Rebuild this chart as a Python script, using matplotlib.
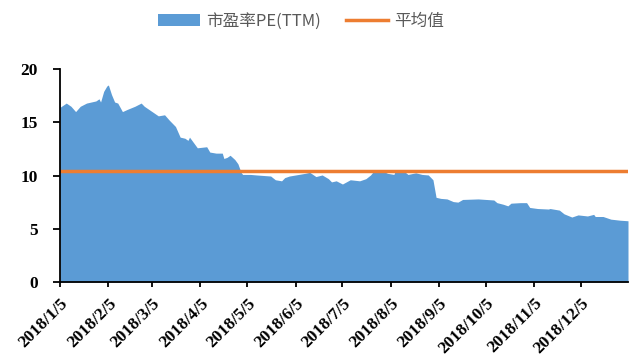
import matplotlib
matplotlib.use("Agg")
import matplotlib.pyplot as plt
from matplotlib.patches import Patch
from matplotlib.lines import Line2D
import pandas as pd

dates = ["2018-01-05", "2018-01-09", "2018-01-12", "2018-01-15", "2018-01-18", "2018-01-22",
         "2018-01-28", "2018-01-30", "2018-01-31", "2018-02-02", "2018-02-04", "2018-02-05",
         "2018-02-07", "2018-02-09", "2018-02-11", "2018-02-14", "2018-02-17", "2018-02-22",
         "2018-02-26", "2018-02-28", "2018-03-03", "2018-03-06", "2018-03-09", "2018-03-13",
         "2018-03-16", "2018-03-20", "2018-03-23", "2018-03-26", "2018-03-28", "2018-03-29",
         "2018-03-31", "2018-04-03", "2018-04-09", "2018-04-11", "2018-04-15", "2018-04-19",
         "2018-04-20", "2018-04-22", "2018-04-24", "2018-04-27", "2018-04-29", "2018-05-01",
         "2018-05-02", "2018-05-07", "2018-05-11", "2018-05-20", "2018-05-23", "2018-05-27",
         "2018-05-29", "2018-06-01", "2018-06-05", "2018-06-11", "2018-06-14", "2018-06-18",
         "2018-06-22", "2018-06-26", "2018-06-28", "2018-07-01", "2018-07-05", "2018-07-10",
         "2018-07-16", "2018-07-20", "2018-07-23", "2018-07-25", "2018-07-31", "2018-08-03",
         "2018-08-07", "2018-08-08", "2018-08-13", "2018-08-16", "2018-08-21", "2018-08-25",
         "2018-08-29", "2018-09-01", "2018-09-03", "2018-09-06", "2018-09-10", "2018-09-14",
         "2018-09-17", "2018-09-20", "2018-09-30", "2018-10-10", "2018-10-12", "2018-10-16",
         "2018-10-19", "2018-10-21", "2018-10-27", "2018-10-31", "2018-11-02", "2018-11-07",
         "2018-11-14", "2018-11-15", "2018-11-21", "2018-11-24", "2018-11-29", "2018-12-03",
         "2018-12-09", "2018-12-13", "2018-12-14", "2018-12-19", "2018-12-24", "2018-12-30",
         "2019-01-04"]
pe_ttm = [16.4, 16.8, 16.5, 16.0, 16.5, 16.8,
          17.0, 17.2, 16.9, 17.9, 18.4, 18.5,
          17.6, 16.9, 16.8, 16.0, 16.2, 16.5,
          16.8, 16.5, 16.2, 15.9, 15.6, 15.7,
          15.2, 14.6, 13.6, 13.5, 13.3, 13.6,
          13.2, 12.6, 12.7, 12.2, 12.1, 12.1,
          11.6, 11.7, 11.9, 11.5, 11.1, 10.3,
          10.1, 10.1, 10.05, 9.95, 9.6, 9.5,
          9.8, 9.95, 10.05, 10.2, 10.3, 9.9,
          10.05, 9.7, 9.4, 9.5, 9.2, 9.6,
          9.5, 9.7, 10.05, 10.4, 10.4, 10.2,
          10.1, 10.5, 10.45, 10.1, 10.25, 10.1,
          10.05, 9.6, 7.95, 7.85, 7.8, 7.55,
          7.5, 7.75, 7.8, 7.7, 7.45, 7.3,
          7.15, 7.4, 7.45, 7.45, 7.0, 6.9,
          6.85, 6.9, 6.75, 6.4, 6.1, 6.3,
          6.2, 6.35, 6.15, 6.15, 5.9, 5.8,
          5.75]
average_pe = 10.4

tick_dates = ["2018-01-05", "2018-02-05", "2018-03-05", "2018-04-05", "2018-05-05", "2018-06-05",
              "2018-07-05", "2018-08-05", "2018-09-05", "2018-10-05", "2018-11-05", "2018-12-05"]
tick_labels = ["2018/1/5", "2018/2/5", "2018/3/5", "2018/4/5", "2018/5/5", "2018/6/5",
               "2018/7/5", "2018/8/5", "2018/9/5", "2018/10/5", "2018/11/5", "2018/12/5"]
y_ticks = [0, 5, 10, 15, 20]

x = pd.to_datetime(dates)
xt = pd.to_datetime(tick_dates)

fig = plt.figure(figsize=(6.29, 3.58), dpi=100)
ax = fig.add_axes([60 / 629, 1 - 282 / 358, 568 / 629, 213 / 358])

blue = "#5B9BD5"
orange = "#ED7D31"
ax.fill_between(x, pe_ttm, 0, color=blue, linewidth=0)
ax.axhline(average_pe, color=orange, linewidth=2.5)

ax.set_xlim(x[0], x[-1])
ax.set_ylim(0, 20)
ax.set_yticks(y_ticks)
ax.set_yticklabels([str(v) for v in y_ticks], fontfamily="Liberation Serif",
                   fontweight="bold", fontsize=12.5)
ax.set_xticks(xt)
ax.set_xticklabels(tick_labels, rotation=45, ha="right", rotation_mode="anchor",
                   fontfamily="Liberation Serif", fontweight="bold", fontsize=12.5)

for s in ["top", "right"]:
    ax.spines[s].set_visible(False)
ax.spines["left"].set_linewidth(1.3)
ax.spines["bottom"].set_linewidth(1.3)
ax.tick_params(axis="y", direction="out", length=5, width=1.3, colors="black", pad=11)
ax.tick_params(axis="x", direction="out", length=3.5, width=1.3, colors="black", pad=6)

handles = [Patch(facecolor=blue, edgecolor="none"),
           Line2D([0], [0], color=orange, linewidth=2.5)]
leg = fig.legend(handles, ["市盈率PE(TTM)", "平均值"], loc="center",
                 bbox_to_anchor=(0.479, 0.94), ncol=2, frameon=False,
                 prop={"family": ["Noto Sans CJK SC", "DejaVu Sans"], "size": 12},
                 handlelength=2.5, handleheight=0.75, columnspacing=1.5, handletextpad=0.4)
for t in leg.get_texts():
    t.set_color("#595959")

fig.savefig("out.png", dpi=100)
